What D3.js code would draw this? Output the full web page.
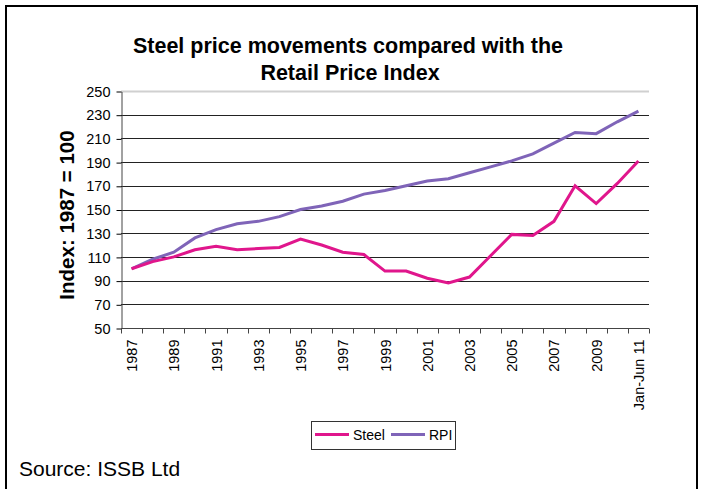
<!DOCTYPE html>
<html>
<head>
<meta charset="utf-8">
<script src="https://cdn.jsdelivr.net/npm/d3@7"></script>
<style>
  body { margin: 0; background: #fff; }
  svg { font-family: Arial, "Liberation Sans", sans-serif; }
</style>
</head>
<body>
<svg id="chart" width="707" height="489"></svg>
<script>
// categories on the x axis
let years = ["1987","1988","1989","1990","1991","1992","1993","1994","1995","1996",
             "1997","1998","1999","2000","2001","2002","2003","2004","2005","2006",
             "2007","2008","2009","2010","Jan-Jun 11"];
let steel = [100,106,110,116,119,116,117,118,125,120,114,112,98,98,92,88,93,111,129,128,140,170,155,172,191];
let rpi   = [100,108,114,126,133,138,140,144,150,153,157,163,166,170,174,176,181,186,191,197,206,215,214,224,233];
let yTicks = [50,70,90,110,130,150,170,190,210,230,250];

let svg = d3.select('#chart');
let plotLeft = 121, plotRight = 649, plotTop = 91, plotBottom = 328;

// outer frame
svg.append('rect')
   .attr('x', 6).attr('y', 6)
   .attr('width', 691).attr('height', 495)
   .attr('fill', 'none')
   .attr('stroke', '#000')
   .attr('stroke-width', 2);

let xscale = d3.scaleBand().domain(years).range([plotLeft, plotRight]);
let yscale = d3.scaleLinear().domain([50, 250]).range([plotBottom, plotTop]);

// gridlines
svg.append('g')
   .selectAll('line')
   .data(yTicks.slice(1))
   .enter()
   .append('line')
   .attr('x1', plotLeft).attr('x2', plotRight)
   .attr('y1', d => Math.round(yscale(d)) + 0.5)
   .attr('y2', d => Math.round(yscale(d)) + 0.5)
   .attr('stroke', d => d == 250 ? '#d0d0d0' : '#222')
   .attr('stroke-width', d => d == 250 ? 2 : 1);

// y axis
let yaxis = d3.axisLeft(yscale).tickValues(yTicks).tickSize(5).tickPadding(6).tickSizeOuter(0);
svg.append('g')
   .attr('transform', `translate(${plotLeft + 0.5},0.5)`)
   .call(yaxis)
   .call(g => g.select('.domain').attr('stroke', '#444'))
   .selectAll('text')
   .attr('font-size', 14.5)
   .attr('font-family', 'Arial, "Liberation Sans", sans-serif')
   .attr('fill', '#000');

// x axis: ticks between categories
let xg = svg.append('g').attr('transform', `translate(0,${plotBottom + 0.5})`);
xg.append('line')
  .attr('x1', plotLeft).attr('x2', plotRight)
  .attr('stroke', '#444');
let edges = years.map(d => xscale(d)).concat([plotRight]);
xg.selectAll('.tick')
  .data(edges)
  .enter()
  .append('line')
  .attr('class', 'tick')
  .attr('x1', d => Math.round(d) + 0.5).attr('x2', d => Math.round(d) + 0.5)
  .attr('y1', 0).attr('y2', 5)
  .attr('stroke', '#444');
xg.selectAll('text')
  .data(years.filter((d, i) => i % 2 == 0))
  .enter()
  .append('text')
  .attr('transform', d => `translate(${xscale(d) + xscale.bandwidth() / 2 + 5.5},11)rotate(-90)`)
  .attr('text-anchor', 'end')
  .attr('font-size', 14.5)
  .text(d => d);

// lines
let line = d3.line()
  .x((d, i) => xscale(years[i]) + xscale.bandwidth() / 2)
  .y(d => yscale(d));

svg.append('path')
   .datum(rpi)
   .attr('d', line)
   .attr('fill', 'none')
   .attr('stroke', '#7f64b8')
   .attr('stroke-width', 3);
svg.append('path')
   .datum(steel)
   .attr('d', line)
   .attr('fill', 'none')
   .attr('stroke', '#e0168c')
   .attr('stroke-width', 3);

// titles
let title = svg.append('text')
   .attr('text-anchor', 'middle')
   .attr('font-weight', 'bold')
   .attr('font-size', 21.5);
title.append('tspan').attr('x', 348).attr('y', 53).text('Steel price movements compared with the');
title.append('tspan').attr('x', 350).attr('y', 80).text('Retail Price Index');

svg.append('text')
   .attr('transform', `translate(73.5,215)rotate(-90)`)
   .attr('text-anchor', 'middle')
   .attr('font-weight', 'bold')
   .attr('font-size', 20.5)
   .text('Index: 1987 = 100');

// legend
let legend = svg.append('g');
legend.append('rect')
   .attr('x', 311.5).attr('y', 421.5)
   .attr('width', 144).attr('height', 28)
   .attr('fill', '#fff')
   .attr('stroke', '#333');
let items = [{name: 'Steel', color: '#e0168c', x: 315}, {name: 'RPI', color: '#7f64b8', x: 391}];
items.forEach(d => {
  legend.append('line')
    .attr('x1', d.x).attr('x2', d.x + 34)
    .attr('y1', 434.5).attr('y2', 434.5)
    .attr('stroke', d.color)
    .attr('stroke-width', 3);
  legend.append('text')
    .attr('x', d.x + 38).attr('y', 439.5)
    .attr('font-size', 14)
    .text(d.name);
});

svg.append('text')
   .attr('x', 19).attr('y', 475.5)
   .attr('font-size', 21)
   .text('Source: ISSB Ltd');
</script>
</body>
</html>
